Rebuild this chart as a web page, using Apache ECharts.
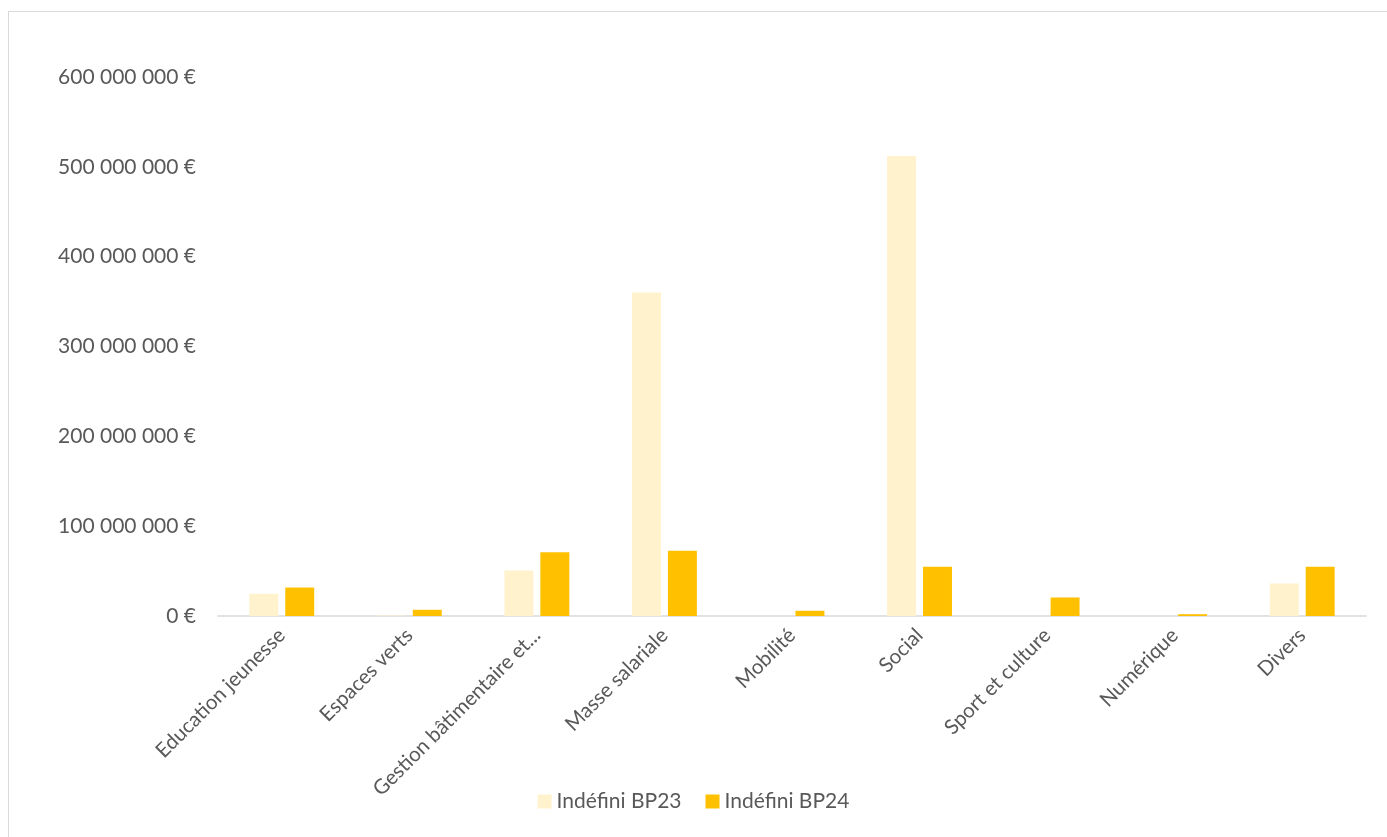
<!DOCTYPE html>
<html lang="fr">
<head>
<meta charset="UTF-8">
<title>Indéfini BP23 / BP24</title>
<script src="https://cdn.jsdelivr.net/npm/echarts@6/dist/echarts.min.js"></script>
<style>
  html, body { margin: 0; padding: 0; background: #fff; overflow: hidden; }
  #cadre { position: absolute; left: 8px; top: 11px; width: 1400px; height: 850px; border: 1px solid #d9d9d9; box-sizing: border-box; }
  #main { position: absolute; left: 0; top: 0; width: 1387px; height: 837px; }
</style>
</head>
<body>
<div id="cadre"></div>
<div id="main"></div>
<script type="text/javascript">
// catégories et valeurs (en euros)
var categories = ['Education jeunesse', 'Espaces verts', 'Gestion bâtimentaire et...', 'Masse salariale',
  'Mobilité', 'Social', 'Sport et culture', 'Numérique', 'Divers'];
var bp23 = [24800000, 500000, 50700000, 360000000, 0, 512000000, 0, 0, 36200000];
var bp24 = [31700000, 6900000, 71000000, 72600000, 5800000, 54800000, 20600000, 2000000, 54800000];
var seriesNames = ['Indéfini BP23', 'Indéfini BP24'];

var police = 'Lato, "Open Sans", sans-serif';
var gris = '#595959';

function euros(v) {
  return String(v).replace(/\B(?=(\d{3})+(?!\d))/g, ' ') + ' €';
}

var myChart = echarts.init(document.getElementById('main'));
var option = {
  animation: false,
  textStyle: { fontFamily: police },
  grid: { left: 218, right: 21, top: 77, bottom: 221, containLabel: false },
  legend: {
    data: seriesNames,
    bottom: 20,
    left: 'center',
    itemWidth: 14,
    itemHeight: 14,
    itemGap: 24,
    icon: 'rect',
    textStyle: { color: gris, fontSize: 21, fontFamily: police }
  },
  xAxis: {
    type: 'category',
    data: categories,
    axisLine: { lineStyle: { color: '#d9d9d9', width: 1.5 } },
    axisTick: { show: false },
    axisLabel: { rotate: 45, color: gris, fontSize: 20.5, margin: 16, interval: 0, fontFamily: police }
  },
  yAxis: {
    type: 'value',
    min: 0,
    max: 600000000,
    interval: 100000000,
    splitLine: { show: false },
    axisLine: { show: false },
    axisTick: { show: false },
    axisLabel: { color: gris, fontSize: 21, margin: 22, fontFamily: police, formatter: euros }
  },
  series: [{
    name: seriesNames[0],
    type: 'bar',
    data: bp23,
    barWidth: '22.7%',
    barGap: '24%',
    itemStyle: { color: '#fff2cc' }
  }, {
    name: seriesNames[1],
    type: 'bar',
    data: bp24,
    barWidth: '22.7%',
    barGap: '24%',
    itemStyle: { color: '#ffc000' }
  }]
};
myChart.setOption(option);
</script>
</body>
</html>
